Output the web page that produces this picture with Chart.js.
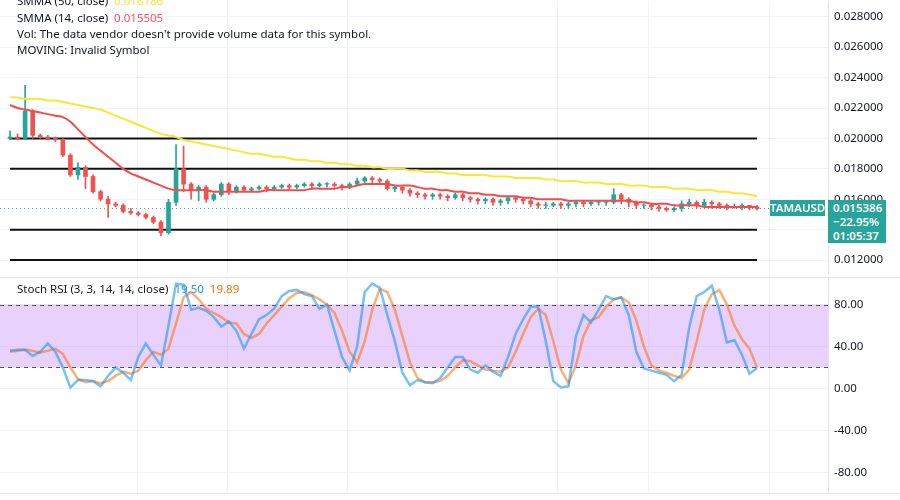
<!DOCTYPE html>
<html><head><meta charset="utf-8">
<script src="https://cdn.jsdelivr.net/npm/chart.js@4.4.0/dist/chart.umd.min.js"></script>
<style>
body{margin:0;background:#fff;font-family:"Noto Sans",Roboto,sans-serif;}
#wrap{position:relative;width:900px;height:500px;overflow:hidden;}
canvas{position:absolute;left:0;}
.lg{position:absolute;left:17px;font-size:11.5px;color:#131722;white-space:nowrap;}
.box{position:absolute;background:#26a69a;color:#fff;font-size:11.5px;}
</style></head><body>
<div id="wrap">
<canvas id="c1" width="900" height="298" style="top:-11px"></canvas>
<canvas id="c2" width="900" height="242" style="top:264px"></canvas>
<div class="lg" style="top:-7px">SMMA (50, close)&nbsp; <span style="color:#f5e63d">0.016186</span></div>
<div class="lg" style="top:10px">SMMA (14, close)&nbsp; <span style="color:#f7525f">0.015505</span></div>
<div class="lg" style="top:26px">Vol: The data vendor doesn't provide volume data for this symbol.</div>
<div class="lg" style="top:42px">MOVING: Invalid Symbol</div>
<div class="lg" style="top:281px">Stoch RSI (3, 3, 14, 14, close)&nbsp; <span style="color:#2196f3">19.50</span>&nbsp; <span style="color:#ff6d00">19.89</span></div>
<div class="box" style="left:770px;top:200px;width:55px;height:16px;line-height:16px;text-align:center;font-weight:600">TAMAUSD</div>
<div class="box" style="left:828px;top:200px;width:58px;height:43px;line-height:14px;padding-left:5px;box-sizing:border-box;padding-top:1px;font-weight:600">0.015386<br>−22.95%<br>01:05:37</div>
</div>
<script>
// prices in units of 1e-4
const opens  = [200,201,200,218,202,201,200,199,189,176,181,175,165,160,157,156,152,151,150,148,145,138,158,180,170,166,168,160,163,170,165,168,166,167,168,167,168,169,168,169,170,169,170,170,169,168,170,172,174,173,172,167,168,166,164,163,162,163,162,161,163,161,160,159,160,158,159,161,160,159,157,156,156,157,156,157,158,157,158,158,158,163,160,158,156,156,155,154,153,154,157,158,156,158,157,156,155,155,156,155];
const closes = [201,200,218,202,201,200,199,189,176,181,175,165,160,157,156,152,151,150,148,145,138,158,180,170,166,168,160,163,170,165,168,166,167,168,167,168,169,168,169,170,169,170,170,169,168,170,172,174,173,172,167,168,166,164,163,162,163,162,161,163,161,160,159,160,158,159,161,160,159,157,156,156,157,156,157,158,157,158,158,158,163,160,158,156,156,155,154,153,154,157,158,156,158,157,156,155,155,156,155,153.86];
const highs  = [205,203,235,219,203,202,201,200,190,184,182,176,166,162,158,157,154,152,151,149,146,160,196,195,171,169,169,164,171,171,169,169,168,169,169,169,170,170,170,171,171,171,171,171,170,171,174,175,175,174,173,169,168,167,165,164,164,164,163,164,164,162,161,161,161,160,162,162,161,160,158,158,158,158,158,159,159,159,159,159,167,164,161,159,157,157,156,155,155,159,160,159,160,159,158,157,157,157,156,156];
const lows   = [199,199,199,200,200,199,198,188,175,173,167,164,159,148,155,151,150,149,147,144,136,137,156,165,160,159,158,159,162,163,164,165,165,166,165,166,167,166,167,168,167,168,168,168,166,167,169,171,171,170,166,165,164,162,161,160,160,160,159,160,159,158,157,157,156,156,157,158,157,155,154,154,155,154,154,155,155,156,156,156,157,157,155,154,154,153,152,152,152,152,155,154,155,154,154,153,154,153,153,153];
const smma14 = [222,220,219,218,217,216,215,214,211,206,201,196,192,188,184,180,177,175,173,171,169,167,166,166,166,166,166,165,165,165,165,165,165,165,166,166,166,166,166,166,167,167,167,167,168,168,169,170,170,170,170,169,169,169,168,167,167,166,166,165,165,164,164,163,163,162,162,162,161,161,160,160,160,160,159,159,159,159,159,159,159,159,159,158,158,157,157,157,156,156,156,156,155,155,155,155,155,155,155,155];
const smma50 = [227,227,226,226,226,225,225,224,223,222,221,220,219,217,215,213,211,209,207,205,203,202,201,199,198,197,196,195,194,193,192,191,190,190,189,188,188,187,186,186,185,185,184,184,183,183,182,182,181,181,180,180,180,179,179,178,178,178,177,177,176,176,176,176,175,175,175,174,174,174,174,173,173,172,172,172,171,171,171,170,170,170,169,169,169,168,168,168,167,167,167,166,166,166,165,165,164,164,163,162];
const stochK = [36,37,37,31,35,43,35,20,1,8,8,7,2,12,20,15,8,30,43,32,22,60,100,99,75,77,74,68,59,64,55,38,52,66,70,76,88,93,94,90,88,76,80,55,30,17,40,92,100,96,70,45,15,3,8,6,5,10,20,30,30,18,15,22,16,12,30,52,66,78,78,45,7,1,2,50,70,63,75,88,85,87,70,35,19,17,15,13,7,13,58,88,92,98,75,44,46,32,14,19.5];
const stochD = [35,36,37,36,34,36,38,33,20,9,6,7,5,7,12,16,14,17,27,35,32,38,62,87,92,85,76,72,68,63,62,52,48,52,62,70,78,86,91,92,89,85,80,72,55,35,25,45,75,95,92,75,50,25,10,6,6,7,12,20,27,26,22,18,17,16,20,35,52,68,76,70,45,18,5,22,50,65,68,78,85,87,82,65,40,22,17,15,12,10,18,45,75,90,94,80,60,47,38,19.89];
const levels = [200,180,140,120];
const lastPrice = 153.86;
const priceTicks = [0.012,0.014,0.016,0.018,0.020,0.022,0.024,0.026,0.028];
const stochTicks = [-80,-40,0,40,80];
const gridX = [16.8,28.8,44.7,72.5,84.6,100.6];

const P = v => v/1e4;
const UP='#26a69a', DN='#ef5350';
const n = closes.length;
const cols = closes.map((c,i)=> c>=opens[i]?UP:DN);
const xMin=-1.33, xMax=108.4;
const xScale = {type:'linear',min:xMin,max:xMax,display:false,offset:false};
function yAxis(min,max,ticks,fmt){return {position:'right',min,max,
  afterBuildTicks:s=>{s.ticks=ticks.map(v=>({value:v}));},
  afterFit:s=>{s.width=72;},
  ticks:{callback:fmt,color:'#131722',font:{size:11.5,family:'Noto Sans'},padding:6},
  grid:{color:'#f0f3fa',drawTicks:false},border:{color:'#e0e3eb'}};}
const vgrid={id:'vgrid',beforeDraw(c){const ctx=c.ctx,x=c.scales.x,a=c.chartArea;ctx.save();ctx.strokeStyle='#f0f3fa';ctx.lineWidth=1;
  gridX.forEach(v=>{const p=Math.round(x.getPixelForValue(v))+0.5;ctx.beginPath();ctx.moveTo(p,a.top);ctx.lineTo(p,a.bottom);ctx.stroke();});ctx.restore();}};

const ds=[];
levels.forEach(l=>ds.push({type:'line',data:[{x:0,y:P(l)},{x:n-1,y:P(l)}],borderColor:'#111',borderWidth:2,pointRadius:0,order:5}));
ds.push({type:'line',data:[{x:xMin,y:P(lastPrice)},{x:xMax,y:P(lastPrice)}],borderColor:'#26a69a',borderWidth:1,borderDash:[1,3],pointRadius:0,order:4});
ds.push({type:'bar',data:closes.map((c,i)=>({x:i,y:[P(lows[i]),P(highs[i])]})),backgroundColor:cols,barThickness:1,grouped:false,order:3});
ds.push({type:'bar',data:closes.map((c,i)=>({x:i,y:[P(opens[i]),P(c===opens[i]?c+0.3:c)]})),backgroundColor:cols,barThickness:4,grouped:false,order:2});
ds.push({type:'line',data:smma14.map((v,i)=>({x:i,y:P(v)})),borderColor:'#f44b4b',borderWidth:2,pointRadius:0,tension:0.3,order:1});
ds.push({type:'line',data:smma50.map((v,i)=>({x:i,y:P(v)})),borderColor:'#f9e737',borderWidth:2,pointRadius:0,tension:0.3,order:0});

new Chart(document.getElementById('c1'),{data:{datasets:ds},
 options:{responsive:false,animation:false,devicePixelRatio:1,layout:{padding:0},
  plugins:{legend:{display:false},tooltip:{enabled:false}},
  scales:{x:xScale,y:yAxis(0.01108,0.02898,priceTicks,v=>v.toFixed(6))}},plugins:[vgrid]});

const band={id:'band',beforeDatasetsDraw(c){const ctx=c.ctx,y=c.scales.y,a=c.chartArea;
  const y80=y.getPixelForValue(80),y20=y.getPixelForValue(20);
  ctx.save();ctx.fillStyle='rgba(200,140,250,0.4)';ctx.fillRect(a.left,y80,a.right-a.left,y20-y80);
  ctx.strokeStyle='#555';ctx.lineWidth=1;ctx.setLineDash([4,4]);
  [y80,y20].forEach(p=>{ctx.beginPath();ctx.moveTo(a.left,Math.round(p)+0.5);ctx.lineTo(a.right,Math.round(p)+0.5);ctx.stroke();});
  ctx.restore();}};
const sep={id:'sep',afterDraw(c){const ctx=c.ctx,a=c.chartArea;ctx.save();ctx.fillStyle='#e0e3eb';ctx.fillRect(0,Math.round(a.top),900,1);ctx.fillRect(0,Math.round(a.bottom),900,1);ctx.restore();}};
new Chart(document.getElementById('c2'),{data:{datasets:[
  {type:'line',data:stochK.map((v,i)=>({x:i,y:v})),borderColor:'rgba(33,150,243,0.6)',borderWidth:2.5,pointRadius:0},
  {type:'line',data:stochD.map((v,i)=>({x:i,y:v})),borderColor:'rgba(255,109,0,0.55)',borderWidth:2.5,pointRadius:0}]},
 options:{responsive:false,animation:false,devicePixelRatio:1,layout:{padding:0},
  plugins:{legend:{display:false},tooltip:{enabled:false}},
  scales:{x:xScale,y:yAxis(-99.8,106.4,stochTicks,v=>v.toFixed(2))}},
 plugins:[vgrid,band,sep]});
</script>
</body></html>
